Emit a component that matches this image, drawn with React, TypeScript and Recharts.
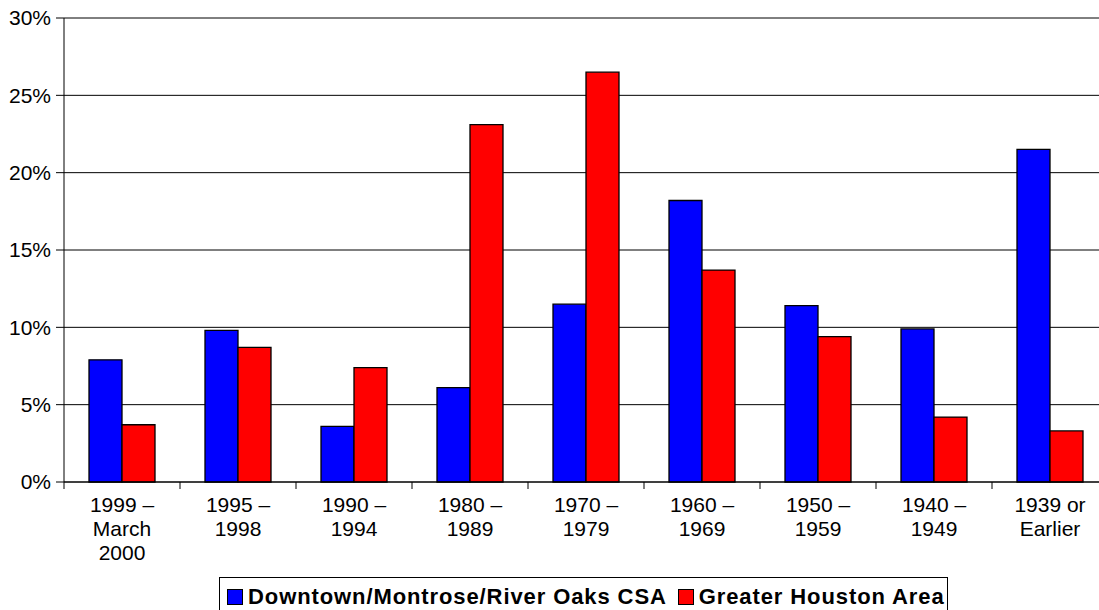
import React from "react";
import { BarChart, Bar, XAxis, YAxis, CartesianGrid } from "recharts";

// Year structure built, share of housing units (%)
const periods = [
  "1999 –\nMarch\n2000",
  "1995 –\n1998",
  "1990 –\n1994",
  "1980 –\n1989",
  "1970 –\n1979",
  "1960 –\n1969",
  "1950 –\n1959",
  "1940 –\n1949",
  "1939 or\nEarlier",
];
const downtownCsa = [7.9, 9.8, 3.6, 6.1, 11.5, 18.2, 11.4, 9.9, 21.5];
const greaterHouston = [3.7, 8.7, 7.4, 23.1, 26.5, 13.7, 9.4, 4.2, 3.3];
const yTicks = [0, 5, 10, 15, 20, 25, 30];

const seriesNames = ["Downtown/Montrose/River Oaks CSA", "Greater Houston Area"];
const seriesColors = ["#0000ff", "#ff0000"];

const FONT = "'Liberation Sans', Arial, sans-serif";

const chartData = periods.map((p, i) => ({
  period: p,
  downtown: downtownCsa[i],
  houston: greaterHouston[i],
}));

// category label split over lines, tick mark drawn at the left edge of each band
const PeriodTick = (props: any) => {
  const { x, y, payload } = props;
  const lines: string[] = String(payload.value).split("\n");
  const half = payload.offset || 0;
  return (
    <g>
      <line x1={x - half} x2={x - half} y1={y} y2={y + 7} stroke="#000" />
      <text
        x={x}
        y={y}
        textAnchor="middle"
        fill="#000"
        fontSize={21}
        fontFamily={FONT}
      >
        {lines.map((ln, i) => (
          <tspan key={i} x={x} y={y + 30 + i * 24}>
            {ln}
          </tspan>
        ))}
      </text>
    </g>
  );
};

export default function App() {
  return (
    <div
      style={{
        position: "absolute",
        left: 0,
        top: 0,
        width: 1099,
        height: 610,
        overflow: "hidden",
        background: "#fff",
        fontFamily: FONT,
      }}
    >
      <BarChart
        width={1110}
        height={610}
        data={chartData}
        margin={{ top: 18, right: 2, left: 4, bottom: 0 }}
        barCategoryGap={25}
        barGap={0}
      >
        <CartesianGrid vertical={false} stroke="#000" strokeWidth={1} />
        <XAxis
          dataKey="period"
          height={128}
          interval={0}
          tickSize={0}
          tickMargin={0}
          tickLine={false}
          axisLine={{ stroke: "#000" }}
          tick={<PeriodTick />}
        />
        <YAxis
          width={60}
          domain={[0, 30]}
          ticks={yTicks}
          interval={0}
          tickSize={8}
          tickMargin={5}
          tickLine={{ stroke: "#000" }}
          axisLine={{ stroke: "#000" }}
          tickFormatter={(v: number) => `${v}%`}
          tick={{ fill: "#000", fontSize: 21, fontFamily: FONT }}
        />
        <Bar
          dataKey="downtown"
          name={seriesNames[0]}
          fill={seriesColors[0]}
          stroke="#000"
          strokeWidth={1.3}
          isAnimationActive={false}
        />
        <Bar
          dataKey="houston"
          name={seriesNames[1]}
          fill={seriesColors[1]}
          stroke="#000"
          strokeWidth={1.3}
          isAnimationActive={false}
        />
      </BarChart>
      <div
        style={{
          position: "absolute",
          left: 219,
          top: 577,
          width: 729,
          height: 40,
          border: "1px solid #000",
          boxSizing: "border-box",
          display: "flex",
          alignItems: "flex-start",
          paddingLeft: 7,
          paddingTop: 10,
          whiteSpace: "nowrap",
        }}
      >
        {seriesNames.map((name, i) => (
          <div
            key={name}
            style={{
              display: "flex",
              alignItems: "center",
              marginRight: i === 0 ? 11 : 0,
              flexShrink: 0,
            }}
          >
            <span
              style={{
                display: "inline-block",
                width: 16,
                height: 16,
                background: seriesColors[i],
                border: "1px solid #000",
                boxSizing: "border-box",
                marginRight: 5,
                flexShrink: 0,
              }}
            />
            <span
              style={{
                fontWeight: "bold",
                fontSize: 22,
                letterSpacing: 0.9,
                lineHeight: "18px",
                color: "#000",
                whiteSpace: "nowrap",
              }}
            >
              {name}
            </span>
          </div>
        ))}
      </div>
    </div>
  );
}
